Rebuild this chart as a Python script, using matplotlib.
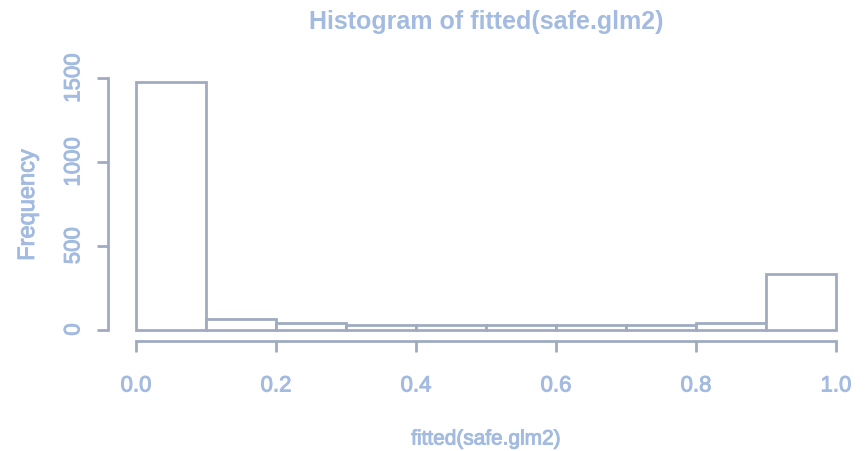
import numpy as np
import matplotlib.pyplot as plt
import matplotlib.patheffects as pe

# histogram of fitted values, bins of width 0.1
bin_edges = [0.0, 0.1, 0.2, 0.3, 0.4, 0.5, 0.6, 0.7, 0.8, 0.9, 1.0]
counts = [1475, 61, 41, 29, 27, 26, 26, 27, 41, 330]
x_ticks = [0.0, 0.2, 0.4, 0.6, 0.8, 1.0]
y_ticks = [0, 500, 1000, 1500]

axis_col = "#a0abc2"
text_col = "#a3bbe0"
heavy = [pe.withStroke(linewidth=0.7, foreground=text_col)]

plt.rcParams['font.family'] = ['Liberation Sans', 'DejaVu Sans']

fig = plt.figure(figsize=(8.65, 4.52), dpi=100)
ax = fig.add_axes([108 / 865, 111.6 / 452, 756 / 865, 267.1 / 452])

lefts = np.array(bin_edges[:-1])
widths = np.diff(bin_edges)
ax.bar(lefts, counts, width=widths, align="edge", color="white",
       edgecolor=axis_col, linewidth=2)

ax.set_xlim(-0.04, 1.04)
ax.set_ylim(-59, 1534)

for s in ["top", "right"]:
    ax.spines[s].set_visible(False)
ax.spines["left"].set_bounds(0, 1500)
ax.spines["bottom"].set_bounds(0, 1)
ax.spines["bottom"].set_position(("outward", 1))
for s in ["left", "bottom"]:
    ax.spines[s].set_color(axis_col)
    ax.spines[s].set_linewidth(2)

ax.set_xticks(x_ticks)
ax.set_xticklabels([f"{v:.1f}" for v in x_ticks])
ax.set_yticks(y_ticks)
ax.set_yticklabels([str(v) for v in y_ticks], rotation=90, va="center")
ax.tick_params(colors=axis_col, labelcolor=text_col, length=8, width=2,
               labelsize=16)
ax.tick_params(axis="x", pad=17)
ax.tick_params(axis="y", pad=9)
for lab in ax.get_xticklabels() + ax.get_yticklabels():
    lab.set_path_effects(heavy)

fig.text(486 / 865, 1 - 440 / 452, "fitted(safe.glm2)", color=text_col,
         fontsize=15, ha="center", va="center", path_effects=heavy)
fig.text(28 / 865, 1 - 206 / 452, "Frequency", color=text_col,
         fontsize=17, ha="center", va="center", rotation=90, path_effects=heavy)
fig.text(486 / 865, 1 - 22 / 452, "Histogram of fitted(safe.glm2)",
         color=text_col, fontsize=18, fontweight="bold", ha="center", va="center")

fig.savefig("out.png", dpi=100)
